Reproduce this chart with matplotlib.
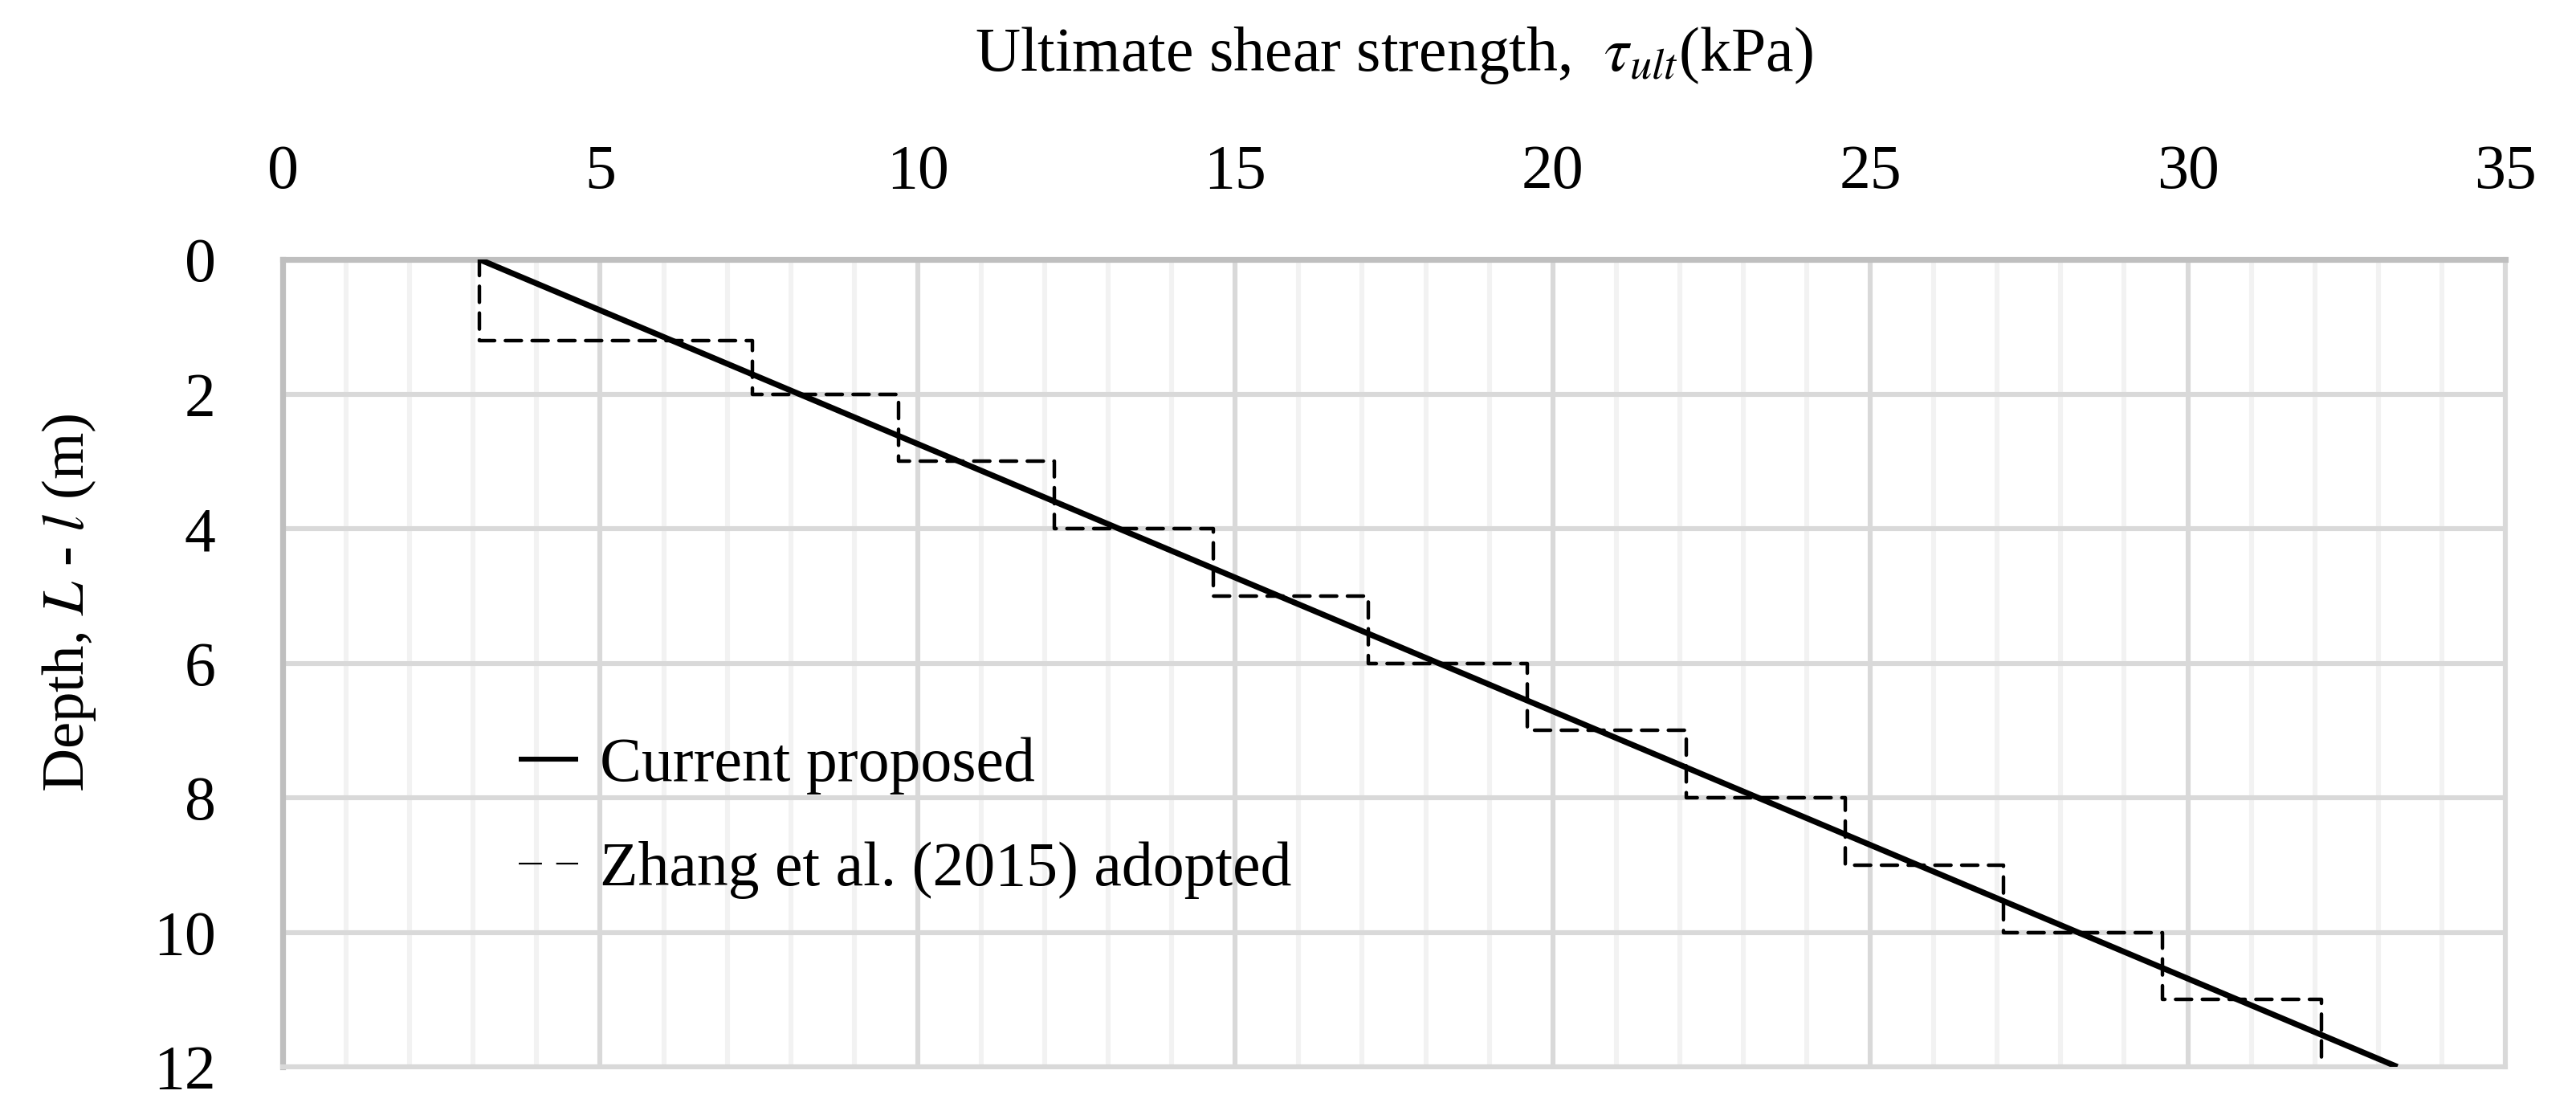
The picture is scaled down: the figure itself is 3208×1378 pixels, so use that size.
import numpy as np
import matplotlib
matplotlib.use("Agg")
import matplotlib.pyplot as plt
from matplotlib.ticker import MultipleLocator
from matplotlib.lines import Line2D

# ---- data ----
depth_line = [0, 12]
tau_line = [3.1, 33.3]

# Zhang et al. (2015) stepped profile
step_depth = [0, 1.2, 1.2, 2, 2, 3, 3, 4, 4, 5, 5, 6, 6, 7, 7, 8, 8, 9, 9, 10, 10, 11, 11, 12]
step_tau = [3.1, 3.1, 7.4, 7.4, 9.7, 9.7, 12.15, 12.15, 14.65, 14.65, 17.1, 17.1,
            19.6, 19.6, 22.1, 22.1, 24.6, 24.6, 27.1, 27.1, 29.6, 29.6, 32.1, 32.1]

plt.rcParams['font.family'] = ['Liberation Serif', 'DejaVu Serif']
plt.rcParams['mathtext.fontset'] = 'stix'

fig = plt.figure(figsize=(16.04, 6.89), dpi=200)
ax = fig.add_axes([352 / 3208, 1 - 1328 / 1378, (3120 - 352) / 3208, (1328 - 323) / 1378])

ax.plot(tau_line, depth_line, color='black', lw=2.6, solid_capstyle='butt', zorder=4)
ax.plot(step_tau, step_depth, color='black', lw=1.6, dashes=(4.5, 3),
        dash_capstyle='round', zorder=3)

ax.set_xlim(0, 35)
ax.set_ylim(12, 0)
ax.xaxis.set_major_locator(MultipleLocator(5))
ax.xaxis.set_minor_locator(MultipleLocator(1))
ax.yaxis.set_major_locator(MultipleLocator(2))
ax.xaxis.tick_top()
ax.xaxis.set_label_position('top')
ax.tick_params(which='both', length=0, labelsize=28)
ax.tick_params(axis='x', pad=26)
ax.tick_params(axis='y', pad=30)

ax.grid(which='minor', axis='x', color='#f2f2f2', lw=2.2)
ax.grid(which='major', axis='both', color='#d9d9d9', lw=2.2)
ax.set_axisbelow(True)

for side in ['top', 'left']:
    ax.spines[side].set_color('#bfbfbf')
    ax.spines[side].set_linewidth(2.6)
for side in ['bottom', 'right']:
    ax.spines[side].set_color('#d9d9d9')
    ax.spines[side].set_linewidth(2.2)

ax.set_xlabel(r'Ultimate shear strength,  $\tau_{ult}$(kPa)', fontsize=28, labelpad=33)
ax.set_ylabel(r'Depth, $L$ - $l$ (m)', fontsize=27)
ax.yaxis.set_label_coords(-0.083, 0.575)

handles = [Line2D([], [], color='black', lw=2.2, solid_capstyle='butt'),
           Line2D([], [], color='black', lw=0.8, dashes=(13, 8))]
labels = ['Current proposed', 'Zhang et al. (2015) adopted']
ax.legend(handles, labels, loc='center left', bbox_to_anchor=(0.081, 0.308), frameon=False,
          fontsize=28, handlelength=0.95, handletextpad=0.35, labelspacing=0.75)

fig.savefig('out.png', dpi=200)
